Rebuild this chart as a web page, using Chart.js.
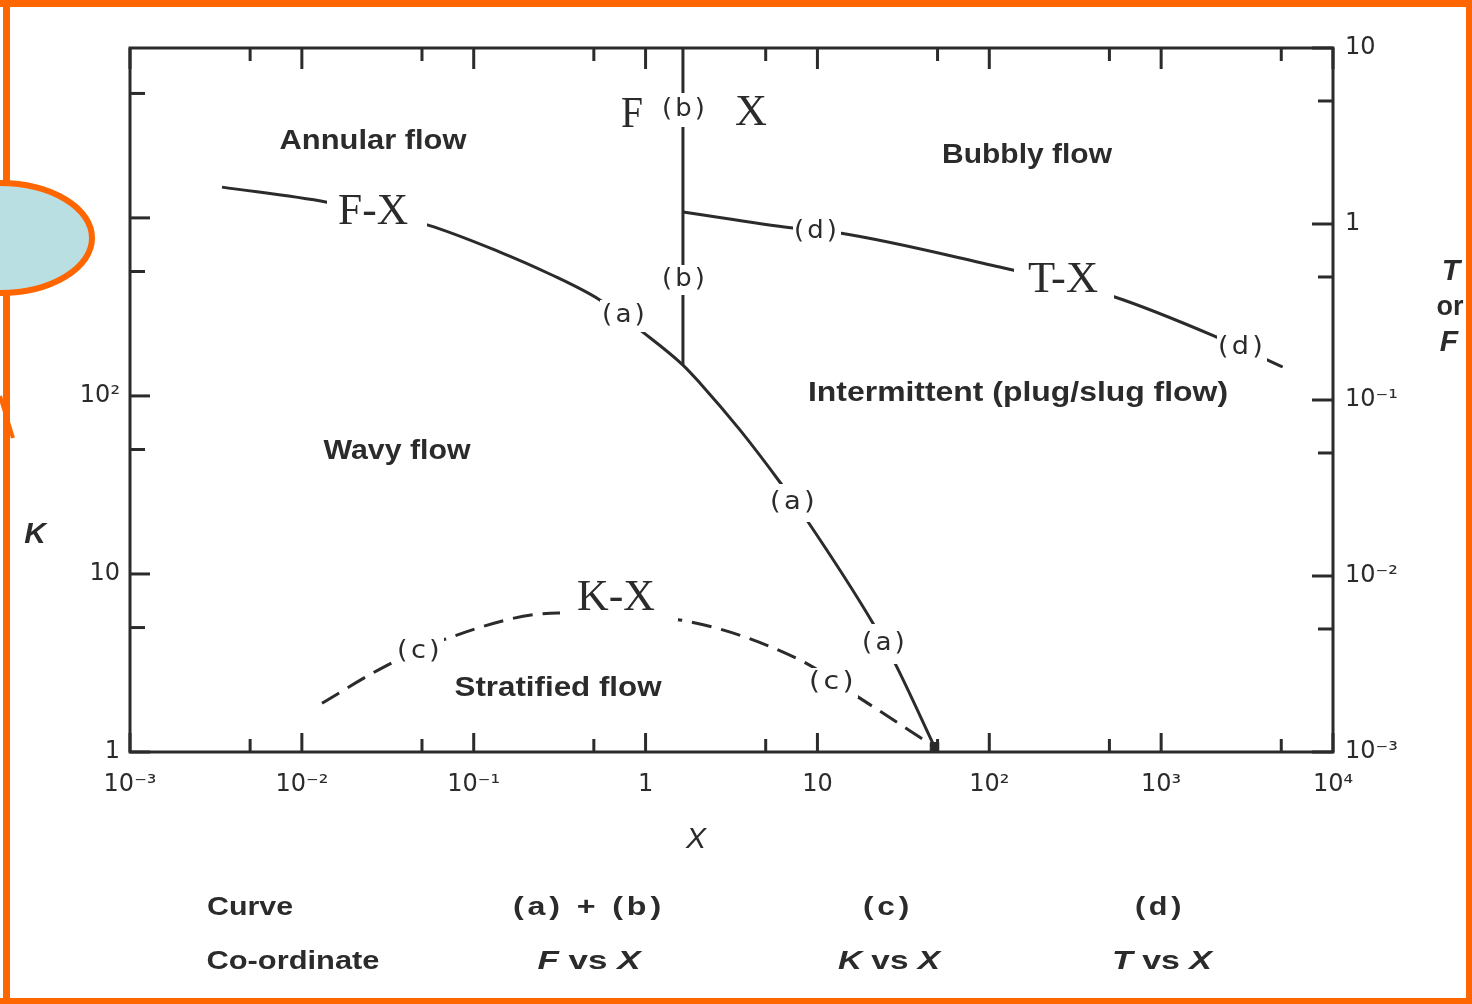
<!DOCTYPE html>
<html><head><meta charset="utf-8">
<script src="https://cdn.jsdelivr.net/npm/chart.js@4.4.1/dist/chart.umd.min.js"></script>
<style>html,body{margin:0;padding:0;background:#fff;overflow:hidden}#wrap{position:relative;width:1472px;height:1004px}canvas{display:block}</style>
</head><body><div id="wrap"><canvas id="c" width="1472" height="1004"></canvas></div>
<script>
// ---------- data ----------
// Curve (a): F vs X (right axis)
const curveA_X = [0.00343, 0.0140, 0.0542, 0.142, 0.277, 0.542, 0.964, 1.65, 2.07, 3.54, 6.04, 8.67, 21.0, 28.2, 48];
const curveA_F = [1.62, 1.33, 0.986, 0.693, 0.520, 0.370, 0.243, 0.158, 0.125, 0.0676, 0.0342, 0.0208, 0.00541, 0.00321, 0.00107];
// Curve (b): vertical boundary, F vs X (right axis)
const curveB_X = [1.65, 1.65];
const curveB_F = [10, 0.158];
// Curve (c): K vs X (left axis)
const curveC_X = [0.0131, 0.0292, 0.0662, 0.309, 1.58, 7.90, 17.2, 48];
const curveC_K = [1.88, 2.96, 4.26, 6.04, 5.52, 3.29, 2.04, 1.07];
// Curve (d): T vs X (right axis)
const curveD_X = [1.65, 7.19, 13.5, 115, 137, 537, 2105, 5095];
const curveD_T = [1.17, 0.948, 0.889, 0.570, 0.548, 0.385, 0.228, 0.154];
// Junction point of (a) and (c)
const junctionX = [48];
const junctionK = [1.07];

// ---------- ticks ----------
const xMajorTicks = [1e-3, 1e-2, 1e-1, 1, 10, 100, 1000, 1e4];
const xMinorTicks = [5e-3, 5e-2, 0.5, 5, 50, 500, 5000];
const xTickLabels = ['10⁻³', '10⁻²', '10⁻¹', '1', '10', '10²', '10³', '10⁴'];
const kMajorTicks = [1, 10, 100, 1000];
const kMinorTicks = [5, 50, 500, 5000];
const kTickLabels = ['1', '10', '10²', ''];
const fMajorTicks = [1e-3, 1e-2, 1e-1, 1, 10];
const fMinorTicks = [5e-3, 5e-2, 0.5, 5];
const fTickLabels = ['10⁻³', '10⁻²', '10⁻¹', '1', '10'];

// ---------- text ----------
const regionLabels = ['Annular flow', 'Bubbly flow', 'Wavy flow', 'Intermittent (plug/slug flow)', 'Stratified flow'];
const tableRow1 = ['Curve', '(a) + (b)', '(c)', '(d)'];

const INK = '#2b2b2b';
const ORANGE = '#ff6600';

function labelFor(v, vals, labs) {
  const i = vals.findIndex(m => Math.abs(Math.log10(m) - Math.log10(v)) < 1e-6);
  return i >= 0 ? labs[i] : '';
}
function tickList(a, b) { return a.concat(b).sort((p, q) => p - q).map(v => ({ value: v })); }
function pts(xs, ys) { return xs.map((x, i) => ({ x: x, y: ys[i] })); }

function fitText(ctx, text, cx, cy, w, font, ls) {
  ctx.save();
  ctx.font = font;
  ctx.letterSpacing = ls || '0px';
  ctx.textAlign = 'center';
  ctx.textBaseline = 'middle';
  const m = ctx.measureText(text).width;
  const s = w ? w / m : 1;
  ctx.translate(cx, cy);
  ctx.scale(s, 1);
  ctx.fillText(text, 0, 0);
  ctx.restore();
}
function drawRich(ctx, segs, cx, cy, w) {
  ctx.save();
  ctx.textBaseline = 'middle';
  ctx.textAlign = 'left';
  let tot = 0;
  segs.forEach(s => { ctx.font = s.f; s.w = ctx.measureText(s.t).width; tot += s.w; });
  const sc = w ? w / tot : 1;
  ctx.translate(cx, cy);
  ctx.scale(sc, 1);
  let x = -tot / 2;
  segs.forEach(s => { ctx.font = s.f; ctx.fillText(s.t, x, 0); x += s.w; });
  ctx.restore();
}

const SANS_B = 'bold 28px "Liberation Sans"';
const PAREN = '25px "DejaVu Sans"';
const SERIF = '44px "Liberation Serif"';

// label layout (pixel placement of annotations)
const curveLabels = [
  { t: 'F-X', x: 373, y: 212, w: 70, f: SERIF, bg: [377, 212, 100, 44] },
  { t: 'F', x: 632, y: 115, w: 22, f: SERIF },
  { t: 'X', x: 751, y: 113, w: 32, f: SERIF },
  { t: '(b)', x: 685, y: 109, w: 46, f: PAREN, ls: '3px', bg: [685, 110, 50, 34] },
  { t: '(b)', x: 685, y: 279, w: 46, f: PAREN, ls: '3px', bg: [685, 280, 50, 30] },
  { t: '(a)', x: 625, y: 315, w: 46, f: PAREN, ls: '3px', bg: [625, 316, 50, 32] },
  { t: '(a)', x: 794, y: 502, w: 48, f: PAREN, ls: '3px', bg: [794, 503, 50, 38] },
  { t: '(a)', x: 885, y: 643, w: 46, f: PAREN, ls: '3px', bg: [885, 644, 50, 40] },
  { t: '(d)', x: 817, y: 231, w: 46, f: PAREN, ls: '3px', bg: [817, 232, 48, 28] },
  { t: 'T-X', x: 1063, y: 280, w: 70, f: SERIF, bg: [1064, 282, 100, 46] },
  { t: '(d)', x: 1242, y: 347, w: 48, f: PAREN, ls: '3px', bg: [1242, 348, 50, 30] },
  { t: 'K-X', x: 616, y: 598, w: 78, f: SERIF, bg: [619, 596, 118, 50] },
  { t: '(c)', x: 420, y: 651, w: 46, f: PAREN, ls: '3px', bg: [420, 652, 48, 28] },
  { t: '(c)', x: 833, y: 682, w: 48, f: PAREN, ls: '3px', bg: [833, 683, 50, 30] }
];
const regionPos = [
  { x: 373, y: 141, w: 187 }, { x: 1027, y: 155, w: 170 }, { x: 397, y: 451, w: 147 },
  { x: 1018, y: 393, w: 420 }, { x: 558, y: 688, w: 207 }
];

const decor = {
  id: 'decor',
  afterDatasetsDraw(chart) {
    const ctx = chart.ctx, a = chart.chartArea;
    const sx = chart.scales.x, sk = chart.scales.yK, sf = chart.scales.yF;
    ctx.save();
    curveLabels.forEach(l => {
      if (l.bg) { ctx.fillStyle = '#fff'; ctx.fillRect(l.bg[0] - l.bg[2] / 2, l.bg[1] - l.bg[3] / 2, l.bg[2], l.bg[3]); }
    });
    ctx.fillStyle = INK;
    curveLabels.forEach(l => fitText(ctx, l.t, l.x, l.y, l.w, l.f, l.ls));
    regionLabels.forEach((t, i) => fitText(ctx, t, regionPos[i].x, regionPos[i].y, regionPos[i].w, SANS_B));
    ctx.strokeStyle = INK; ctx.lineWidth = 3;
    ctx.strokeRect(a.left, a.top, a.right - a.left, a.bottom - a.top);
    const seg = (x1, y1, x2, y2) => { ctx.beginPath(); ctx.moveTo(x1, y1); ctx.lineTo(x2, y2); ctx.stroke(); };
    xMajorTicks.forEach(v => { const p = sx.getPixelForValue(v); seg(p, a.bottom, p, a.bottom - 19); seg(p, a.top, p, a.top + 21); });
    xMinorTicks.forEach(v => { const p = sx.getPixelForValue(v); seg(p, a.bottom, p, a.bottom - 13); seg(p, a.top, p, a.top + 13); });
    kMajorTicks.forEach(v => { const p = sk.getPixelForValue(v); seg(a.left, p, a.left + 20, p); });
    kMinorTicks.forEach(v => { const p = sk.getPixelForValue(v); seg(a.left, p, a.left + 15, p); });
    fMajorTicks.forEach(v => { const p = sf.getPixelForValue(v); seg(a.right, p, a.right - 21, p); });
    fMinorTicks.forEach(v => { const p = sf.getPixelForValue(v); seg(a.right, p, a.right - 15, p); });
    ctx.restore();
  },
  afterDraw(chart) {
    const ctx = chart.ctx;
    ctx.save();
    ctx.fillStyle = INK;
    fitText(ctx, 'X', 696, 840, 0, 'italic 30px "Liberation Sans"');
    fitText(ctx, 'K', 35, 535, 0, 'italic bold 30px "Liberation Sans"');
    fitText(ctx, 'T', 1451, 272, 0, 'italic bold 30px "Liberation Sans"');
    fitText(ctx, 'or', 1450, 308, 0, 'bold 27px "Liberation Sans"');
    fitText(ctx, 'F', 1449, 343, 0, 'italic bold 30px "Liberation Sans"');
    const TB = 'bold 25px "Liberation Sans"', TI = 'italic bold 25px "Liberation Sans"';
    fitText(ctx, tableRow1[0], 250, 908, 86, TB);
    fitText(ctx, tableRow1[1], 589, 908, 152, TB, '3px');
    fitText(ctx, tableRow1[2], 888, 908, 50, TB, '3px');
    fitText(ctx, tableRow1[3], 1160, 908, 50, TB, '3px');
    fitText(ctx, 'Co-ordinate', 293, 962, 173, TB);
    drawRich(ctx, [{ t: 'F', f: TI }, { t: ' vs ', f: TB }, { t: 'X', f: TI }], 589, 962, 103);
    drawRich(ctx, [{ t: 'K', f: TI }, { t: ' vs ', f: TB }, { t: 'X', f: TI }], 889, 962, 102);
    drawRich(ctx, [{ t: 'T', f: TI }, { t: ' vs ', f: TB }, { t: 'X', f: TI }], 1162, 962, 100);
    ctx.fillStyle = ORANGE;
    ctx.fillRect(0, 0, 1472, 7);
    ctx.fillRect(3, 0, 7, 1004);
    ctx.fillRect(1466, 0, 6, 1004);
    ctx.fillRect(0, 998, 1472, 6);
    ctx.strokeStyle = ORANGE; ctx.lineWidth = 4;
    ctx.beginPath(); ctx.moveTo(0, 396); ctx.lineTo(13, 438); ctx.stroke();
    ctx.beginPath();
    ctx.ellipse(0, 238, 92, 55, 0, 0, Math.PI * 2);
    ctx.fillStyle = '#b9dfe2'; ctx.fill();
    ctx.lineWidth = 6; ctx.strokeStyle = ORANGE; ctx.stroke();
    ctx.restore();
  }
};

const lineStyle = { borderColor: INK, borderWidth: 3, pointRadius: 0, fill: false, cubicInterpolationMode: 'monotone' };
const tickFont = { family: 'DejaVu Sans', size: 24 };

new Chart(document.getElementById('c'), {
  type: 'line',
  data: {
    datasets: [
      Object.assign({ label: '(a) F vs X', data: pts(curveA_X, curveA_F), yAxisID: 'yF' }, lineStyle),
      Object.assign({ label: '(b) F vs X', data: pts(curveB_X, curveB_F), yAxisID: 'yF' }, lineStyle, { cubicInterpolationMode: 'default', tension: 0 }),
      Object.assign({ label: '(c) K vs X', data: pts(curveC_X, curveC_K), yAxisID: 'yK', borderDash: [20, 10] }, lineStyle),
      Object.assign({ label: '(d) T vs X', data: pts(curveD_X, curveD_T), yAxisID: 'yF' }, lineStyle),
      { label: 'junction', data: pts(junctionX, junctionK), yAxisID: 'yK', showLine: false, pointStyle: 'rect', pointRadius: 6, backgroundColor: INK, borderColor: INK }
    ]
  },
  options: {
    responsive: false,
    animation: false,
    events: [],
    layout: { padding: { top: 48, left: 0, right: 0, bottom: 0 } },
    plugins: { legend: { display: false }, tooltip: { enabled: false } },
    scales: {
      x: {
        type: 'logarithmic', position: 'bottom', min: 1e-3, max: 1e4,
        afterBuildTicks: s => { s.ticks = tickList(xMajorTicks, xMinorTicks); },
        afterFit: s => { s.height = 252; },
        grid: { display: false, drawTicks: false }, border: { display: false },
        ticks: { autoSkip: false, maxRotation: 0, minRotation: 0, padding: 18, font: tickFont, color: INK,
          callback: v => labelFor(v, xMajorTicks, xTickLabels) }
      },
      yK: {
        type: 'logarithmic', position: 'left', min: 1, max: 9000,
        afterBuildTicks: s => { s.ticks = tickList(kMajorTicks, kMinorTicks); },
        afterFit: s => { s.width = 130; },
        grid: { display: false, drawTicks: false }, border: { display: false },
        ticks: { autoSkip: false, padding: 10, font: tickFont, color: INK,
          callback: v => labelFor(v, kMajorTicks, kTickLabels) }
      },
      yF: {
        type: 'logarithmic', position: 'right', min: 1e-3, max: 10,
        afterBuildTicks: s => { s.ticks = tickList(fMajorTicks, fMinorTicks); },
        afterFit: s => { s.width = 139; },
        grid: { display: false, drawTicks: false }, border: { display: false },
        ticks: { autoSkip: false, padding: 12, font: tickFont, color: INK,
          callback: v => labelFor(v, fMajorTicks, fTickLabels) }
      }
    }
  },
  plugins: [decor]
});
</script>
</body></html>
